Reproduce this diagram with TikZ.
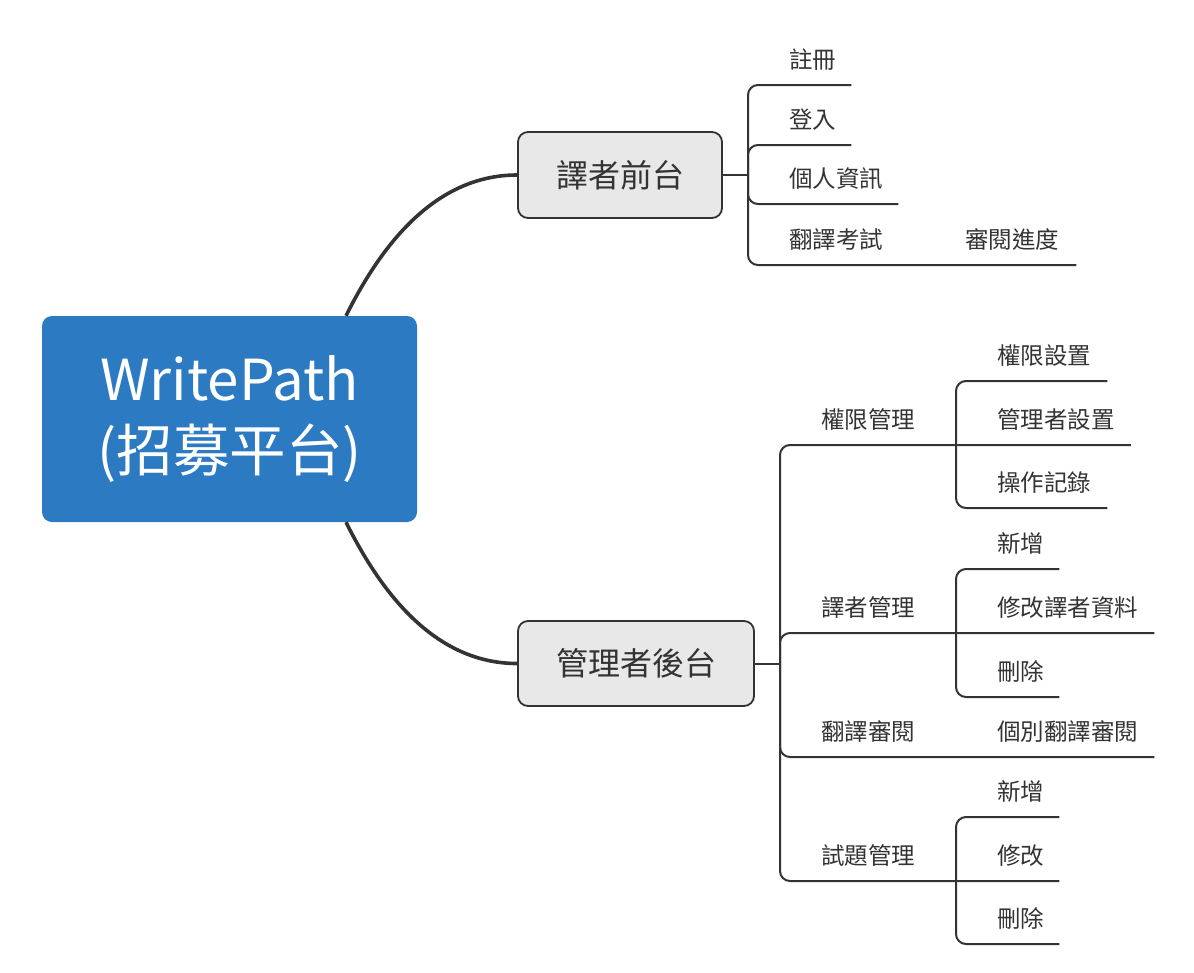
\documentclass[tikz,border=0pt]{standalone}
\usepackage{fontspec}
\setmainfont{Noto Sans CJK TC}
\usetikzlibrary{calc}
\definecolor{rootblue}{RGB}{44,123,194}
\definecolor{boxgray}{RGB}{232,232,232}
\definecolor{ink}{RGB}{51,51,51}
\tikzset{
  rootbox/.style={draw=none, fill=rootblue, rounded corners=10pt, minimum width=375pt, minimum height=206pt, text=white, align=center, font=\fontsize{56.5}{71}\selectfont, inner sep=0pt},
  mainbox/.style={draw=ink, line width=1.8pt, fill=boxgray, rounded corners=10pt, text=ink, font=\fontsize{32}{38}\selectfont, inner sep=0pt},
  leaf/.style={anchor=south west, inner xsep=0pt, inner ysep=0pt, text height=18pt, text depth=16.5pt, text=ink, font=\fontsize{23.5}{28}\selectfont},
  curvebranch/.style={draw=ink, line width=3.6pt},
  branch/.style={draw=ink, line width=2pt, rounded corners=10pt},
  stub/.style={draw=ink, line width=2pt},
}
\begin{document}
\begin{tikzpicture}[x=1pt, y=-1pt]
\useasboundingbox (0,0) rectangle (1194,972);
% main nodes
\node[rootbox] (root) at (229.5,419) {WritePath\\(招募平台)};
\node[mainbox, minimum width=204pt, minimum height=86pt] (front) at (620,175) {譯者前台};
\node[mainbox, minimum width=236pt, minimum height=85pt] (back) at (636,663.5) {管理者後台};
% curves
\draw[curvebranch] ([xshift=116.5pt]root.north) .. controls +(30,-60) and +(-88,0) .. (front.west);
\draw[curvebranch] ([xshift=116.5pt]root.south) .. controls +(30,60) and +(-88,0) .. (back.west);
% junctions
\coordinate (j1) at (748,175);
\coordinate (j2) at (780,663.5);
\coordinate (j3) at (956,445);
\coordinate (j4) at (956,633);
\coordinate (j5) at (956,881);
% front leaves
\node[leaf] (reg) at (789,85) {註冊};
\node[leaf] (login) at (789,145) {登入};
\node[leaf] (info) at (789,204) {個人資訊};
\node[leaf] (exam) at (789,265) {翻譯考試};
\node[leaf] (progress) at (965,265) {審閱進度};
% back leaves
\node[leaf] (perm) at (821,445) {權限管理};
\node[leaf] (permset) at (997,381) {權限設置};
\node[leaf] (adminset) at (997,445) {管理者設置};
\node[leaf] (oplog) at (997,508) {操作記錄};
\node[leaf] (tm) at (821,633) {譯者管理};
\node[leaf] (add1) at (997,569) {新增};
\node[leaf] (edit1) at (997,633) {修改譯者資料};
\node[leaf] (del1) at (997,697) {刪除};
\node[leaf] (rv) at (821,757) {翻譯審閱};
\node[leaf] (indiv) at (997,757) {個別翻譯審閱};
\node[leaf] (qm) at (821,881) {試題管理};
\node[leaf] (add2) at (997,817) {新增};
\node[leaf] (edit2) at (997,881) {修改};
\node[leaf] (del2) at (997,944) {刪除};
% front connectors
\draw[stub] (front.east) -- (j1);
\draw[branch] (j1) |- ([xshift=15pt]reg.south east);
\draw[branch] (j1) |- ([xshift=15pt]login.south east);
\draw[branch] (j1) |- ([xshift=15pt]info.south east);
\draw[branch] (j1) |- ([xshift=17pt]progress.south east);
% back connectors
\draw[stub] (back.east) -- (j2);
\draw[branch] (j2) |- ([xshift=16pt]adminset.south east);
\draw[branch] (j3) |- ([xshift=16pt]permset.south east);
\draw[branch] (j3) |- ([xshift=16pt]oplog.south east);
\draw[branch] (j2) |- ([xshift=16pt]edit1.south east);
\draw[branch] (j4) |- ([xshift=15pt]add1.south east);
\draw[branch] (j4) |- ([xshift=15pt]del1.south east);
\draw[branch] (j2) |- ([xshift=16pt]indiv.south east);
\draw[branch] (j2) |- ([xshift=15pt]edit2.south east);
\draw[branch] (j5) |- ([xshift=15pt]add2.south east);
\draw[branch] (j5) |- ([xshift=15pt]del2.south east);
\end{tikzpicture}
\end{document}
